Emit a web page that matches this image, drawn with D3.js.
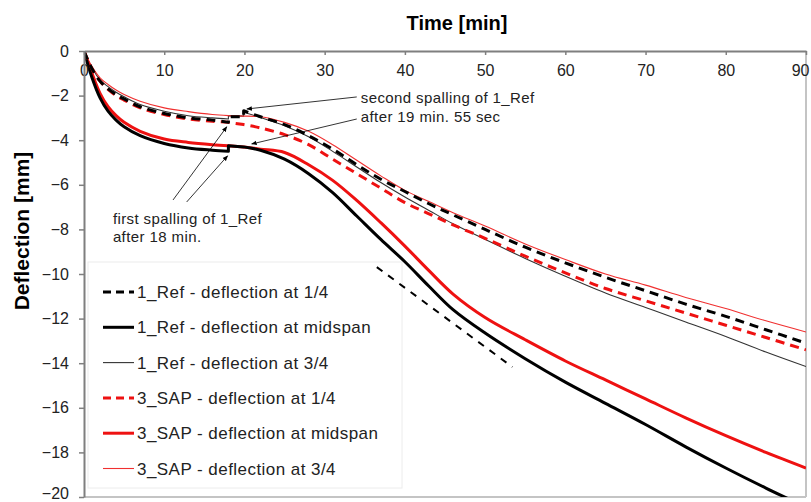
<!DOCTYPE html>
<html>
<head>
<meta charset="utf-8">
<script src="https://cdn.jsdelivr.net/npm/d3@7"></script>
<style>
  body { margin: 0; background: #fff; }
  svg text { font-family: "Liberation Sans", Arial, sans-serif; }
</style>
</head>
<body>
<svg id="svg"></svg>
<script>
// time in minutes (repeated values = jump caused by spalling)
const times = [0, 1, 2, 3, 4, 5, 7, 10, 13, 16, 18, 18, 19.9, 19.9, 22, 25, 28, 31, 34, 37, 40,
               43, 46, 50, 55, 60, 65, 70, 75, 80, 85, 90];

const refQuarter = [0, -0.8, -1.35, -1.7, -1.95, -2.15, -2.5, -2.8, -3.0, -3.1, -3.2, -2.95, -2.95, -2.68,
                    -2.95, -3.3, -3.8, -4.4, -5.1, -5.75, -6.3, -6.85, -7.35, -8.0, -8.8, -9.5, -10.15,
                    -10.75, -11.35, -11.9, -12.5, -13.1];
const refMid = [0, -1.2, -2.1, -2.7, -3.1, -3.4, -3.8, -4.15, -4.35, -4.45, -4.5, -4.25, -4.3, -4.3,
                -4.45, -4.85, -5.5, -6.35, -7.4, -8.45, -9.45, -10.55, -11.6, -12.65, -13.8, -14.85, -15.8,
                -16.75, -17.75, -18.7, -19.6, -20.45];
const refThreeQ = [0, -0.75, -1.3, -1.6, -1.85, -2.05, -2.4, -2.7, -2.9, -3.0, -3.05, -2.9, -2.92, -2.75,
                   -2.98, -3.35, -3.85, -4.5, -5.2, -5.9, -6.55, -7.15, -7.75, -8.45, -9.3, -10.1, -10.85,
                   -11.5, -12.15, -12.8, -13.5, -14.15];
const sapQuarter = [0, -0.8, -1.35, -1.72, -2.0, -2.2, -2.55, -2.85, -3.05, -3.15, -3.2, -3.2, -3.3, -3.3,
                    -3.45, -3.75, -4.2, -4.85, -5.5, -6.15, -6.8, -7.3, -7.8, -8.4, -9.2, -9.95, -10.65,
                    -11.2, -11.75, -12.3, -12.85, -13.4];
const sapMid = [0, -1.0, -1.9, -2.5, -2.9, -3.2, -3.6, -3.95, -4.1, -4.2, -4.25, -4.25, -4.3, -4.3,
                -4.4, -4.55, -5.1, -5.8, -6.7, -7.7, -8.75, -9.85, -10.9, -11.95, -12.95, -13.9, -14.75,
                -15.6, -16.45, -17.25, -18.0, -18.7];
const sapThreeQ = [0, -0.7, -1.2, -1.5, -1.75, -1.95, -2.25, -2.55, -2.72, -2.85, -2.9, -2.9, -2.92, -2.92,
                   -2.95, -3.2, -3.6, -4.2, -4.9, -5.6, -6.25, -6.75, -7.25, -7.85, -8.65, -9.35, -10.0,
                   -10.5, -11.05, -11.55, -12.1, -12.6];

// straight dashed tangent on the midspan curve
const tangentT = [36.5, 53.4];
const tangentD = [-9.69, -14.17];

const seriesNames = ["1_Ref - deflection at 1/4", "1_Ref - deflection at midspan", "1_Ref - deflection at 3/4",
                     "3_SAP - deflection at 1/4", "3_SAP - deflection at midspan", "3_SAP - deflection at 3/4"];
const seriesValues = [refQuarter, refMid, refThreeQ, sapQuarter, sapMid, sapThreeQ];

const xTicks = [0, 10, 20, 30, 40, 50, 60, 70, 80, 90];
const yTicks = [0, -2, -4, -6, -8, -10, -12, -14, -16, -18, -20];

// annotation arrows: [fromT, fromD, toT, toD]
const arrows = [
  [11.1, -6.68, 17.8, -3.4],
  [12.8, -6.77, 17.9, -4.7],
  [34.0, -2.06, 20.3, -2.6],
  [34.0, -3.05, 20.9, -4.17]
];
const notes = [
  { t: 34.5, d: -2.1, lines: ["second spalling of 1_Ref", "after 19 min. 55 sec"] },
  { t: 3.6, d: -7.5, lines: ["first spalling of 1_Ref", "after 18 min."] }
];

const width = 811;
const height = 502;
const margin = { top: 51, right: 5, bottom: 5, left: 84 };

const styles = [
  { color: "#000", w: 3, dash: "9,6" },
  { color: "#000", w: 3, dash: null },
  { color: "#333", w: 1.1, dash: null },
  { color: "#ee1111", w: 3, dash: "9,6" },
  { color: "#ee1111", w: 3, dash: null },
  { color: "#f03030", w: 1.1, dash: null }
];

let svg = d3.select("#svg").attr("width", width).attr("height", height);

const xScale = d3.scaleLinear().domain([0, 90]).range([margin.left, width - margin.right]);
const yScale = d3.scaleLinear().domain([0, -20]).range([margin.top, height - margin.bottom]);

svg.append("defs").append("clipPath").attr("id", "plot-clip")
  .append("rect")
  .attr("x", xScale(0)).attr("y", yScale(0))
  .attr("width", xScale(90) - xScale(0)).attr("height", yScale(-20) - yScale(0));

svg.append("defs").append("marker")
  .attr("id", "arrow")
  .attr("viewBox", "0 0 10 10")
  .attr("refX", 9).attr("refY", 5)
  .attr("markerWidth", 7).attr("markerHeight", 7)
  .attr("orient", "auto")
  .append("path").attr("d", "M0,1 L10,5 L0,9 z").attr("fill", "#000");

// plot frame (right and bottom)
svg.append("line")
  .attr("x1", xScale(90)).attr("x2", xScale(90))
  .attr("y1", yScale(0)).attr("y2", yScale(-20))
  .attr("stroke", "#c4c4c4").attr("stroke-width", 2);
svg.append("line")
  .attr("x1", xScale(0)).attr("x2", xScale(90))
  .attr("y1", yScale(-20)).attr("y2", yScale(-20))
  .attr("stroke", "#c4c4c4").attr("stroke-width", 2);

// legend box
const legendX = 88, legendTop = 262, legendStep = 35.3;
svg.append("rect")
  .attr("x", legendX).attr("y", legendTop)
  .attr("width", 402 - legendX).attr("height", 226)
  .attr("fill", "none").attr("stroke", "#ececec");

// lines
const line = d3.line().x(d => xScale(d[0])).y(d => yScale(d[1])).curve(d3.curveCatmullRom.alpha(0.5));

function pathWithJumps(values) {
  // split where time repeats, join runs with straight segments
  let runs = [[]];
  times.forEach((t, i) => {
    if (i > 0 && t === times[i - 1]) runs.push([]);
    runs[runs.length - 1].push([t, values[i]]);
  });
  return runs.map((r, i) => {
    let p = r.length > 1 ? line(r) : "M" + xScale(r[0][0]) + "," + yScale(r[0][1]);
    return i === 0 ? p : p.replace(/^M/, "L");
  }).join("");
}

const plot = svg.append("g").attr("clip-path", "url(#plot-clip)");

// draw thin lines first, thick on top
const drawOrder = [2, 5, 4, 1, 3, 0];
drawOrder.forEach(i => {
  plot.append("path")
    .attr("d", pathWithJumps(seriesValues[i]))
    .attr("fill", "none")
    .attr("stroke", styles[i].color)
    .attr("stroke-width", styles[i].w)
    .attr("stroke-dasharray", styles[i].dash)
    .attr("stroke-linejoin", "round");
});

plot.append("path")
  .attr("d", d3.line()(tangentT.map((t, i) => [xScale(t), yScale(tangentD[i])])))
  .attr("stroke", "#000")
  .attr("stroke-width", 2)
  .attr("stroke-dasharray", "7,7");

// axes
const xAxis = svg.append("g")
  .attr("transform", `translate(0,${yScale(0)})`)
  .call(d3.axisBottom(xScale).tickValues(xTicks).tickSize(4).tickSizeOuter(0).tickPadding(10));
const yAxis = svg.append("g")
  .attr("transform", `translate(${xScale(0)},0)`)
  .call(d3.axisLeft(yScale).tickValues(yTicks).tickSize(5).tickSizeOuter(0).tickPadding(10));

[xAxis, yAxis].forEach(a => {
  a.select(".domain").attr("stroke", "#7f7f7f").attr("stroke-width", 2);
  a.selectAll(".tick line").attr("stroke", "#7f7f7f").attr("stroke-width", 1.5);
  a.selectAll(".tick text").attr("fill", "#222").style("font-size", "16px");
});
// keep the end labels inside the picture
xAxis.selectAll(".tick text").filter(d => d === 90).attr("text-anchor", "end").attr("dx", "3px");
yAxis.selectAll(".tick text").filter(d => d === -20).attr("dy", "0.1em");

// axis titles
svg.append("text")
  .attr("x", 457).attr("y", 30)
  .attr("text-anchor", "middle")
  .style("font-size", "20px").style("font-weight", "bold")
  .text("Time [min]");
svg.append("text")
  .attr("transform", "translate(29,231) rotate(-90)")
  .attr("text-anchor", "middle")
  .style("font-size", "21px").style("font-weight", "bold")
  .text("Deflection [mm]");

// annotations
arrows.forEach(a => {
  svg.append("line")
    .attr("x1", xScale(a[0])).attr("y1", yScale(a[1]))
    .attr("x2", xScale(a[2])).attr("y2", yScale(a[3]))
    .attr("stroke", "#000").attr("stroke-width", 0.8)
    .attr("marker-end", "url(#arrow)");
});
notes.forEach(n => {
  const t = svg.append("text")
    .attr("x", xScale(n.t)).attr("y", yScale(n.d))
    .style("font-size", "15px").style("letter-spacing", "0.4px")
    .attr("fill", "#222");
  n.lines.forEach((l, i) => {
    t.append("tspan").attr("x", xScale(n.t)).attr("dy", i === 0 ? "0.35em" : "1.25em").text(l);
  });
});

// legend entries
seriesNames.forEach((name, i) => {
  const y = legendTop + 30 + i * legendStep;
  svg.append("line")
    .attr("x1", 103).attr("x2", 134).attr("y1", y).attr("y2", y)
    .attr("stroke", styles[i].color)
    .attr("stroke-width", styles[i].w)
    .attr("stroke-dasharray", styles[i].dash ? "8,5" : null);
  svg.append("text")
    .attr("x", 137).attr("y", y).attr("dy", "0.36em")
    .style("font-size", "17px").style("letter-spacing", "0.45px")
    .attr("fill", "#222")
    .text(name);
});
</script>
</body>
</html>
